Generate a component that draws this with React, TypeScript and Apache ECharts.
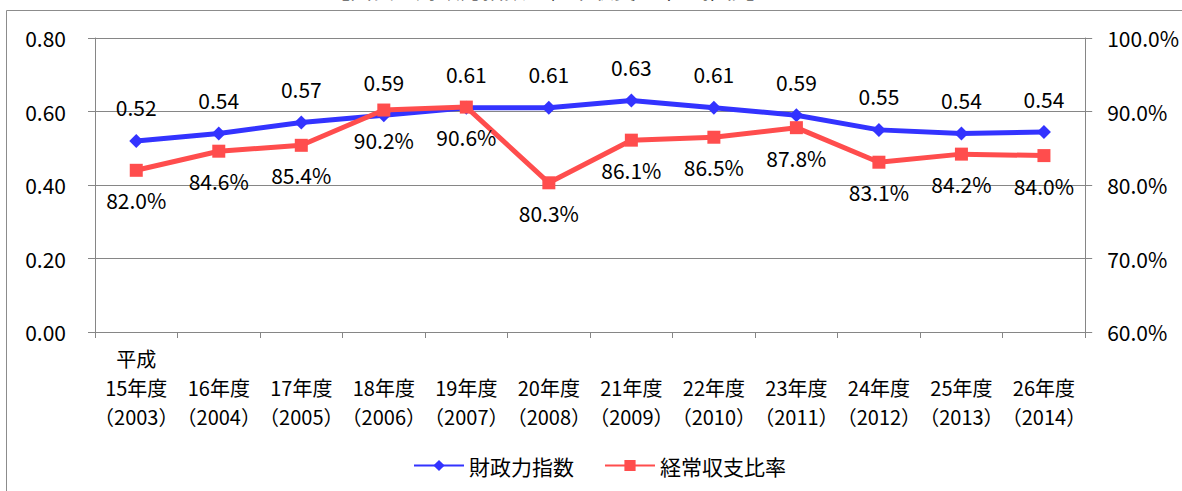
import React, { useEffect, useRef } from 'react';
import * as echarts from 'echarts';

const fiscalYearLabels = ['15年度', '16年度', '17年度', '18年度', '19年度', '20年度', '21年度', '22年度', '23年度', '24年度', '25年度', '26年度'];
const westernYears = ['2003', '2004', '2005', '2006', '2007', '2008', '2009', '2010', '2011', '2012', '2013', '2014'];
const fiscalStrengthIndex = [0.52, 0.54, 0.57, 0.59, 0.61, 0.61, 0.63, 0.61, 0.59, 0.55, 0.54, 0.544];
const ordinaryBalanceRatio = [82.0, 84.6, 85.4, 90.2, 90.6, 80.3, 86.1, 86.5, 87.8, 83.1, 84.2, 84.0];
const seriesNames = ['財政力指数', '経常収支比率'];
const titleText = '【図表　財政力指数・経常収支比率の推移】';

const FONT = "'Noto Sans CJK JP', sans-serif";
const GRID = '#868686';
const NUM_SIZE = 21;

export default function App() {
  const ref = useRef<HTMLDivElement>(null);
  useEffect(() => {
    if (!ref.current) return;
    const chart = echarts.init(ref.current, undefined, { renderer: 'svg' });
    const cats = fiscalYearLabels.map((f, i) => (i === 0 ? '平成' : '') + '\n' + f + '\n（' + westernYears[i] + '）');
    chart.setOption({
      animation: false,
      backgroundColor: '#ffffff',
      textStyle: { fontFamily: FONT },
      grid: { left: 95, right: 93, top: 38, bottom: 159, containLabel: false },
      graphic: [
        { type: 'line', shape: { x1: 6.5, y1: 10.5, x2: 1182, y2: 10.5 }, style: { stroke: '#8c8c8c', lineWidth: 1 } },
        { type: 'line', shape: { x1: 6.5, y1: 10.5, x2: 6.5, y2: 491 }, style: { stroke: '#8c8c8c', lineWidth: 1 } },
        { type: 'text', x: 328, y: -23, style: { text: titleText, font: "22px 'Noto Sans CJK JP'", fill: '#000' } },
      ],
      legend: {
        data: seriesNames,
        left: 408,
        top: 450,
        itemWidth: 50,
        itemHeight: 14,
        itemGap: 30,
        textStyle: { fontSize: 21, fontFamily: FONT, color: '#000' },
      },
      xAxis: {
        type: 'category',
        data: cats,
        boundaryGap: true,
        axisLine: { lineStyle: { color: GRID } },
        axisTick: { show: true, length: 6, alignWithLabel: false, lineStyle: { color: GRID } },
        axisLabel: { interval: 0, margin: 12, color: '#000', fontSize: 20, lineHeight: 29, fontFamily: FONT },
      },
      yAxis: [
        {
          type: 'value', min: 0, max: 0.8, interval: 0.2,
          axisLine: { show: true, lineStyle: { color: GRID } },
          axisTick: { show: true, length: 7, lineStyle: { color: GRID } },
          axisLabel: { formatter: (v: number) => v.toFixed(2), margin: 29, fontSize: NUM_SIZE, color: '#000', fontFamily: FONT },
          splitLine: { show: true, lineStyle: { color: GRID, width: 1 } },
        },
        {
          type: 'value', position: 'right', min: 60, max: 100, interval: 10,
          axisLine: { show: true, lineStyle: { color: GRID } },
          axisTick: { show: true, length: 7, lineStyle: { color: GRID } },
          axisLabel: { formatter: (v: number) => v.toFixed(1) + '%', margin: 22, fontSize: NUM_SIZE, color: '#000', fontFamily: FONT },
          splitLine: { show: false },
        },
      ],
      series: [
        {
          name: seriesNames[0], type: 'line', yAxisIndex: 0, data: fiscalStrengthIndex,
          color: '#3333ff', symbol: 'diamond', symbolSize: 14,
          lineStyle: { width: 5, color: '#3333ff' }, itemStyle: { color: '#3333ff' },
          label: { show: true, position: 'top', distance: 16, fontSize: NUM_SIZE, color: '#000', fontFamily: FONT, formatter: (p: any) => p.value.toFixed(2) },
          z: 3,
        },
        {
          name: seriesNames[1], type: 'line', yAxisIndex: 1, data: ordinaryBalanceRatio,
          color: '#ff4d4d', symbol: 'rect', symbolSize: 13,
          lineStyle: { width: 5, color: '#ff4d4d' }, itemStyle: { color: '#ff4d4d' },
          label: { show: true, position: 'bottom', distance: 13, fontSize: NUM_SIZE, color: '#000', fontFamily: FONT, formatter: (p: any) => p.value.toFixed(1) + '%' },
          z: 4,
        },
      ],
    });
    return () => chart.dispose();
  }, []);
  return <div ref={ref} style={{ position: 'absolute', left: 0, top: 0, width: 1182, height: 491 }} />;
}
